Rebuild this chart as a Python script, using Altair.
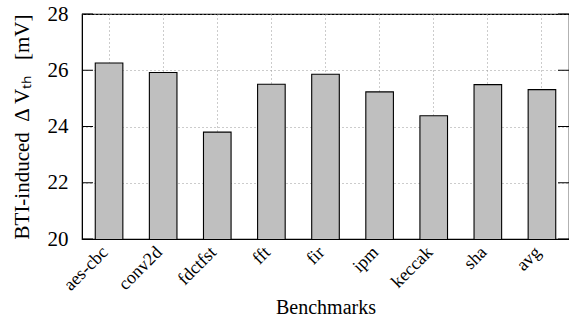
import altair as alt
import pandas as pd

benchmarks = ["aes-cbc", "conv2d", "fdctfst", "fft", "fir", "ipm", "keccak", "sha", "avg"]
delta_vth = [26.26, 25.92, 23.80, 25.50, 25.86, 25.23, 24.38, 25.49, 25.31]
y_ticks = [20, 22, 24, 26, 28]

df = pd.DataFrame({"bench": benchmarks, "val": delta_vth})
ticks_df = pd.DataFrame({"t": y_ticks})

W, H = 487, 225
FONT = "Liberation Serif"

yscale = alt.Scale(domain=[20, 28], nice=False, zero=False)
xscale = alt.Scale(paddingInner=0.49, paddingOuter=0.245)

y_title = "BTI-induced\u00a0\u00a0\u0394\u2009V\u209c\u2095\u00a0\u00a0\u00a0[mV]"

bars = alt.Chart(df).mark_bar(fill="#bfbfbf", stroke="black", strokeWidth=1.1, clip=True).encode(
    x=alt.X("bench:N", sort=benchmarks, scale=xscale,
            axis=alt.Axis(title="Benchmarks", labelAngle=-45, labelAlign="right", labelBaseline="top",
                          labelPadding=4, labelOffset=-10, ticks=False, domain=True, domainColor="black",
                          grid=True, bandPosition=0.5, gridDash=[1, 3], gridColor="#999999",
                          labelFont=FONT, labelFontSize=18, labelColor="black",
                          titleFont=FONT, titleFontSize=20, titleFontWeight="normal", titleColor="black",
                          titlePadding=4)),
    y=alt.Y("val:Q", scale=yscale,
            axis=alt.Axis(title=y_title, values=y_ticks, ticks=False,
                          labelPadding=14, domain=True, domainColor="black",
                          grid=True, gridDash=[1, 3], gridColor="#999999",
                          labelFont=FONT, labelFontSize=21, labelColor="black",
                          titleFont=FONT, titleFontSize=21, titleFontWeight="normal", titleColor="black",
                          titlePadding=15)),
)

left_ticks = alt.Chart(ticks_df).mark_rule(color="black", strokeWidth=1).encode(
    y=alt.Y("t:Q", scale=yscale), x=alt.value(0), x2=alt.value(11))
right_ticks = alt.Chart(ticks_df).mark_rule(color="black", strokeWidth=1).encode(
    y=alt.Y("t:Q", scale=yscale), x=alt.value(W - 11), x2=alt.value(W))

chart = alt.layer(bars, left_ticks, right_ticks).properties(
    width=W, height=H,
    autosize=alt.AutoSizeParams(type="none"),
    padding={"left": 82, "top": 14, "right": 0, "bottom": 81},
).configure_view(stroke="black", strokeWidth=1.2)

chart.save("out.html", embed_options={"renderer": "svg", "actions": False})
